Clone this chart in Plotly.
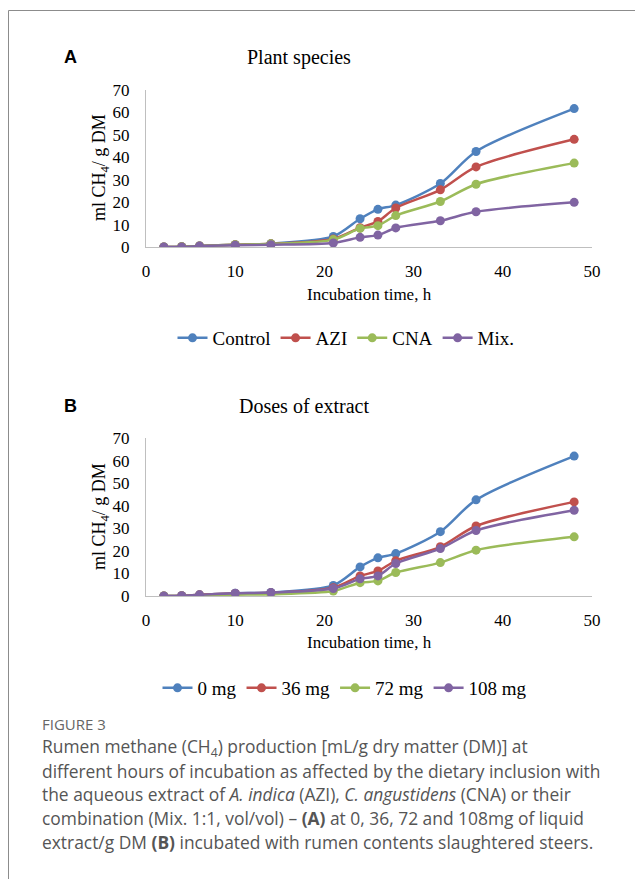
import plotly.graph_objects as go

# The page body keeps an 8px margin, so the figure is drawn 8px in from the
# window's top-left corner; size it to fill the rest of the 643x879 window.
OFF = 8
W, H = 643 - OFF, 879 - OFF

# ---------------- data ----------------
hours = [2, 4, 6, 10, 14, 21, 24, 26, 28, 33, 37, 48]

species_names = ["Control", "AZI", "CNA", "Mix."]
control = [0.0, 0.1, 0.5, 1.0, 1.5, 4.7, 12.6, 16.8, 18.7, 28.3, 42.6, 61.7]
azi     = [0.0, 0.1, 0.5, 1.0, 1.4, 3.6, 8.6, 11.4, 17.4, 25.5, 35.7, 48.0]
cna     = [0.0, 0.1, 0.5, 1.0, 1.4, 3.3, 8.3, 9.5, 14.0, 20.3, 28.0, 37.4]
mix     = [0.0, 0.0, 0.4, 0.8, 1.0, 1.8, 4.3, 5.3, 8.5, 11.7, 15.7, 19.9]

dose_names = ["0 mg", "36 mg", "72 mg", "108 mg"]
dose0   = [0.0, 0.1, 0.5, 1.2, 1.6, 4.7, 12.9, 16.9, 18.8, 28.5, 42.6, 62.0]
dose36  = [0.0, 0.1, 0.5, 1.1, 1.4, 3.7, 8.9, 11.1, 15.6, 21.8, 31.0, 41.7]
dose72  = [0.0, 0.0, 0.3, 0.6, 0.8, 2.2, 5.9, 6.7, 10.4, 14.8, 20.3, 26.2]
dose108 = [0.0, 0.1, 0.5, 1.2, 1.5, 3.3, 7.6, 8.9, 14.4, 21.0, 29.0, 38.0]

x_ticks = [0, 10, 20, 30, 40, 50]
y_ticks = [0, 10, 20, 30, 40, 50, 60, 70]

colors = ["#4F81BD", "#C0504D", "#9BBB59", "#8064A2"]

SERIF = "Liberation Serif, Times New Roman, serif"
SANS = "Open Sans, Noto Sans, sans-serif"


def px_x(p):
    """window pixel x -> paper fraction"""
    return (p - OFF) / W


def px_y(p):
    """window pixel y -> paper fraction"""
    return 1 - (p - OFF) / H


fig = go.Figure()

panels = [
    ("x", "y", "legend", [control, azi, cna, mix], species_names),
    ("x2", "y2", "legend2", [dose0, dose36, dose72, dose108], dose_names),
]
for xa, ya, lg, series, names in panels:
    for vals, name, c in zip(series, names, colors):
        fig.add_trace(go.Scatter(
            x=hours, y=vals, name=name, xaxis=xa, yaxis=ya, legend=lg,
            mode="lines+markers",
            line=dict(color=c, width=2.5, shape="spline", smoothing=0.8),
            marker=dict(color=c, size=9),
        ))

axis_common = dict(
    showgrid=False, zeroline=False, showline=True, linecolor="#BFBFBF",
    linewidth=1, ticks="", tickfont=dict(family=SERIF, size=17, color="#000"),
    fixedrange=True, automargin=False,
)

# pixel geometry (window pixels)
x0p, x1p = 146, 592
A_y0, A_y70 = 247, 90
B_y0, B_y70 = 596, 438

legend_font = dict(family=SERIF, size=19, color="#000")

fig.update_layout(
    width=W, height=H,
    margin=dict(l=0, r=0, t=0, b=0, pad=0, autoexpand=False),
    paper_bgcolor="white", plot_bgcolor="white",
    showlegend=True,
    xaxis=dict(domain=[px_x(x0p), px_x(x1p)], range=[0, 50], tickvals=x_ticks,
               anchor="y", ticklabelstandoff=9, **axis_common),
    yaxis=dict(domain=[px_y(A_y0), px_y(A_y70)], range=[0, 70], tickvals=y_ticks,
               anchor="x", ticklabelstandoff=12, **axis_common),
    xaxis2=dict(domain=[px_x(x0p), px_x(x1p)], range=[0, 50], tickvals=x_ticks,
                anchor="y2", ticklabelstandoff=9, **axis_common),
    yaxis2=dict(domain=[px_y(B_y0), px_y(B_y70)], range=[0, 70], tickvals=y_ticks,
                anchor="x2", ticklabelstandoff=12, **axis_common),
    legend=dict(orientation="h", x=px_x(346), y=px_y(338), xanchor="center",
                yanchor="middle", font=legend_font,
                bgcolor="rgba(0,0,0,0)", itemwidth=30, tracegroupgap=0),
    legend2=dict(orientation="h", x=px_x(345), y=px_y(688), xanchor="center",
                 yanchor="middle", font=legend_font,
                 bgcolor="rgba(0,0,0,0)", itemwidth=30, tracegroupgap=0),
)

ann = []


def add_text(text, xp, yp, size, family, color="#000", xanchor="center", angle=0):
    ann.append(dict(text=text, x=px_x(xp), y=px_y(yp), xref="paper", yref="paper",
                    xanchor=xanchor, yanchor="middle", showarrow=False,
                    textangle=angle, font=dict(size=size, family=family, color=color)))


ytitle = "ml CH<sub>4</sub>/ g DM"
xtitle = "Incubation time, h"

add_text("<b>A</b>", 70, 57, 18, "Liberation Sans, Arial, sans-serif")
add_text("Plant species", 299, 57, 20, SERIF)
add_text(ytitle, 100, 168, 18, SERIF, angle=-90)
add_text(xtitle, 369, 294, 17, SERIF)

add_text("<b>B</b>", 70, 406, 18, "Liberation Sans, Arial, sans-serif")
add_text("Doses of extract", 304, 406, 20, SERIF)
add_text(ytitle, 100, 517, 18, SERIF, angle=-90)
add_text(xtitle, 369, 642, 17, SERIF)

cap_color = "#555555"
add_text("FIGURE 3", 40, 724, 15, SANS, color="#666666", xanchor="left")
caption_lines = [
    "Rumen methane (CH<sub>4</sub>) production [mL/g dry matter (DM)] at",
    "different hours of incubation as affected by the dietary inclusion with",
    "the aqueous extract of <i>A. indica</i> (AZI), <i>C. angustidens</i> (CNA) or their",
    "combination (Mix. 1:1, vol/vol) \u2013 <b>(A)</b> at 0, 36, 72 and 108mg of liquid",
    "extract/g DM <b>(B)</b> incubated with rumen contents slaughtered steers.",
]
for i, line in enumerate(caption_lines):
    add_text(line, 40, 747 + i * 23.7, 17.4, SANS, color=cap_color, xanchor="left")

fig.update_layout(annotations=ann)

# card frame (top and left edges) at window x=8.5, y=10.5
fig.add_shape(type="line", xref="paper", yref="paper", x0=px_x(8.5), x1=1.01,
              y0=px_y(10.5), y1=px_y(10.5), line=dict(color="#8C8C8C", width=1))
fig.add_shape(type="line", xref="paper", yref="paper", x0=px_x(8.5), x1=px_x(8.5),
              y0=px_y(10.5), y1=-0.01, line=dict(color="#8C8C8C", width=1))

fig.write_html("out.html", config={"displayModeBar": False})
